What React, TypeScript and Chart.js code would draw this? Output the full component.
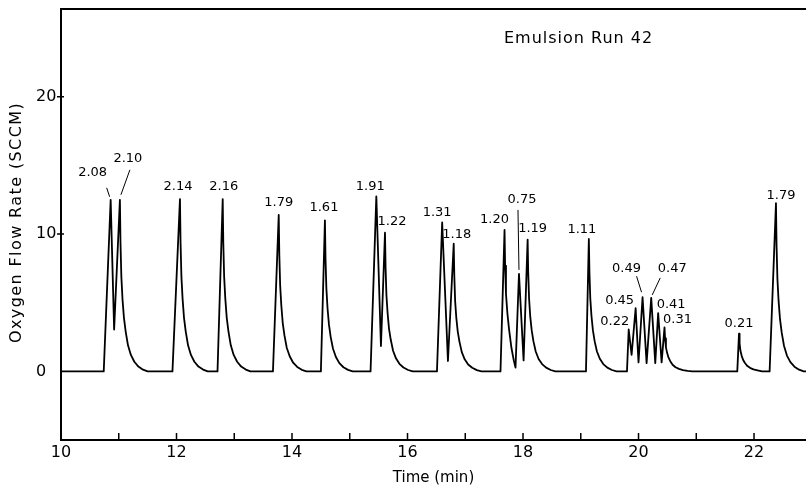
import React, { useEffect, useRef } from 'react';
import { Chart, registerables } from 'chart.js';

Chart.register(...registerables);

// Trace of the oxygen flow rate (SCCM) against time (min)
const TIME = [
  10.0,
  10.74, 10.86, 10.92, 11.02, 11.03, 11.045, 11.065, 11.09, 11.12, 11.16, 11.21, 11.27, 11.34, 11.42, 11.5,
  11.93, 12.06, 12.07, 12.085, 12.105, 12.13, 12.16, 12.2, 12.25, 12.31, 12.38, 12.46, 12.54,
  12.71, 12.8, 12.81, 12.825, 12.845, 12.87, 12.9, 12.94, 12.99, 13.05, 13.12, 13.2, 13.28,
  13.67, 13.77, 13.78, 13.795, 13.815, 13.84, 13.87, 13.91, 13.96, 14.02, 14.09, 14.17, 14.25,
  14.5, 14.57, 14.58, 14.595, 14.615, 14.64, 14.67, 14.71, 14.76, 14.82, 14.89, 14.97, 15.05,
  15.36, 15.46, 15.54, 15.61, 15.62, 15.635, 15.655, 15.68, 15.71, 15.75, 15.8, 15.86, 15.93, 16.01, 16.09,
  16.51, 16.6, 16.7, 16.8, 16.81, 16.825, 16.845, 16.87, 16.9, 16.94, 16.99, 17.05, 17.12, 17.2, 17.28,
  17.61, 17.68, 17.69, 17.705, 17.73, 17.76, 17.8, 17.84, 17.87, 17.93, 18.01,
  18.08, 18.09, 18.105, 18.125, 18.15, 18.18, 18.22, 18.27, 18.33, 18.4, 18.48, 18.56,
  19.09, 19.14, 19.15, 19.165, 19.185, 19.21, 19.24, 19.28, 19.33, 19.39, 19.46, 19.54, 19.62,
  19.8, 19.83, 19.88, 19.95, 20.0, 20.07, 20.14, 20.22, 20.29, 20.34, 20.4,
  20.45, 20.46, 20.475, 20.495, 20.52, 20.55, 20.59, 20.64, 20.7, 20.77, 20.85, 20.93,
  21.71, 21.74, 21.75, 21.765, 21.785, 21.81, 21.84, 21.88, 21.93, 21.99, 22.06, 22.14,
  22.27, 22.38, 22.39, 22.405, 22.425, 22.45, 22.48, 22.52, 22.57, 22.63, 22.7, 22.78, 22.86, 22.9,
];
const FLOW = [
  0,
  0, 12.5, 3.05, 12.5, 9.4, 6.9, 5.25, 3.9, 2.9, 1.9, 1.2, 0.7, 0.35, 0.12, 0,
  0, 12.55, 9.4, 6.9, 5.3, 3.9, 2.9, 1.9, 1.2, 0.7, 0.35, 0.13, 0,
  0, 12.55, 9.4, 6.9, 5.3, 3.9, 2.9, 1.9, 1.2, 0.7, 0.35, 0.13, 0,
  0, 11.4, 8.55, 6.25, 4.8, 3.5, 2.6, 1.7, 1.1, 0.63, 0.32, 0.11, 0,
  0, 11.0, 8.25, 6.05, 4.6, 3.4, 2.5, 1.65, 1.05, 0.6, 0.3, 0.11, 0,
  0, 12.75, 1.85, 10.1, 7.6, 5.55, 4.25, 3.1, 2.3, 1.5, 0.95, 0.55, 0.28, 0.1, 0,
  0, 10.85, 0.75, 9.3, 7.0, 5.1, 3.9, 2.9, 2.15, 1.4, 0.88, 0.5, 0.26, 0.09, 0,
  0, 10.3, 7.7, 5.65, 4.2, 3.0, 1.7, 0.8, 0.27, 7.1, 0.8,
  9.6, 7.2, 5.3, 4.0, 3.0, 2.2, 1.45, 0.9, 0.53, 0.27, 0.1, 0,
  0, 9.65, 7.25, 5.3, 4.05, 3.0, 2.2, 1.45, 0.92, 0.53, 0.27, 0.1, 0,
  0, 3.05, 1.2, 4.6, 0.65, 5.4, 0.6, 5.35, 0.6, 4.25, 0.65,
  3.2, 2.4, 1.75, 1.35, 1.0, 0.74, 0.48, 0.3, 0.18, 0.09, 0.03, 0,
  0, 2.75, 2.05, 1.5, 1.15, 0.85, 0.63, 0.41, 0.26, 0.15, 0.08, 0,
  0, 12.25, 9.2, 6.75, 5.15, 3.8, 2.8, 1.85, 1.15, 0.67, 0.34, 0.12, 0, 0,
];

// Peak annotations (text, peak time, peak height)
const PEAK_TEXT = [
  '2.08', '2.10', '2.14', '2.16', '1.79', '1.61', '1.91', '1.22', '1.31', '1.18', '1.20',
  '0.75', '1.19', '1.11', '0.22', '0.45', '0.49', '0.47', '0.41', '0.31', '0.21', '1.79',
];
const PEAK_TIME = [
  10.86, 11.02, 12.06, 12.8, 13.77, 14.57, 15.46, 15.61, 16.6, 16.8, 17.68,
  17.93, 18.08, 19.14, 19.83, 19.95, 20.07, 20.22, 20.34, 20.45, 21.74, 22.38,
];
const PEAK_FLOW = [
  12.5, 12.5, 12.55, 12.55, 11.4, 11.0, 12.75, 10.1, 10.85, 9.3, 10.3,
  7.1, 9.6, 9.65, 3.05, 4.6, 5.4, 5.35, 4.25, 3.2, 2.75, 12.25,
];

const X_TICKS = [10, 11, 12, 13, 14, 15, 16, 17, 18, 19, 20, 21, 22];
const Y_TICKS = [0, 10, 20];
const RUN_TITLE = 'Emulsion Run 42';
const X_TITLE = 'Time (min)';
const Y_TITLE = 'Oxygen Flow Rate (SCCM)';

// Layout only: pixel offsets of each label from its peak apex
const LABEL_OFFSET: [number, number][] = [
  [-18, -27], [8, -41], [-2, -12], [1, -12], [0, -12], [-1, -13], [-6, -10], [7, -11],
  [-5, -10], [3, -9], [-10, -10], [3, -74], [5, -11], [-7, -9], [-14, -8], [-16, -8],
  [-16, -29], [21, -29], [13, -8], [13, -8], [0, -10], [5, -8],
];
// Layout only: leader lines (label index, x1, y1, x2, y2 relative to apex)
const LEADERS: [number, number, number, number, number][] = [
  [0, -4, -12, -1, -3],
  [1, 10, -30, 1, -5],
  [11, -1, -64, 0, -4],
  [16, -6, -21, -1, -5],
  [17, 9, -20, 1, -3],
];

const FONT = 'DejaVu Sans';

const decorPlugin = {
  id: 'decor',
  afterDatasetsDraw(chart: any) {
    const { ctx, chartArea } = chart;
    const xs = chart.scales.x;
    const ys = chart.scales.y;
    const { left, right, top, bottom } = chartArea;
    ctx.save();
    ctx.strokeStyle = '#000';
    ctx.fillStyle = '#000';
    ctx.lineWidth = 2;
    ctx.beginPath();
    ctx.moveTo(right, top);
    ctx.lineTo(left, top);
    ctx.lineTo(left, bottom);
    ctx.lineTo(right, bottom);
    ctx.stroke();

    ctx.lineWidth = 1.5;
    ctx.beginPath();
    xs.ticks.forEach((t: any) => {
      const px = xs.getPixelForValue(t.value);
      ctx.moveTo(px, bottom);
      ctx.lineTo(px, bottom - 7);
    });
    ys.ticks.forEach((t: any) => {
      if (t.value === 0) return;
      const py = ys.getPixelForValue(t.value);
      ctx.moveTo(left - 4, py);
      ctx.lineTo(left + 3, py);
    });
    ctx.stroke();

    ctx.font = `13px "${FONT}"`;
    ctx.textAlign = 'center';
    ctx.textBaseline = 'middle';
    PEAK_TEXT.forEach((txt, i) => {
      const ax = xs.getPixelForValue(PEAK_TIME[i]);
      const ay = ys.getPixelForValue(PEAK_FLOW[i]);
      const [dx, dy] = LABEL_OFFSET[i];
      ctx.fillText(txt, ax + dx, ay + dy);
    });
    ctx.lineWidth = 1;
    ctx.beginPath();
    LEADERS.forEach(([i, x1, y1, x2, y2]) => {
      const ax = xs.getPixelForValue(PEAK_TIME[i]);
      const ay = ys.getPixelForValue(PEAK_FLOW[i]);
      ctx.moveTo(ax + x1, ay + y1);
      ctx.lineTo(ax + x2, ay + y2);
    });
    ctx.stroke();

    ctx.font = `16px "${FONT}"`;
    ctx.textAlign = 'left';
    (ctx as any).letterSpacing = '1px';
    ctx.fillText(RUN_TITLE, left + 443, top + 30);

    // y-axis title, rotated
    ctx.save();
    ctx.translate(left - 44, (top + bottom) / 2 - 2);
    ctx.rotate(-Math.PI / 2);
    ctx.textAlign = 'center';
    (ctx as any).letterSpacing = '1.4px';
    ctx.fillText(Y_TITLE, 0, 0);
    ctx.restore();
    ctx.restore();
  },
};

export default function App() {
  const ref = useRef<HTMLCanvasElement | null>(null);
  useEffect(() => {
    if (!ref.current) return;
    const points = TIME.map((t, i) => ({ x: t, y: FLOW[i] }));
    const chart = new Chart(ref.current, {
      type: 'scatter',
      data: {
        datasets: [
          {
            data: points,
            showLine: true,
            borderColor: '#000',
            borderWidth: 1.8,
            pointRadius: 0,
            tension: 0,
            borderJoinStyle: 'round',
            fill: false,
          } as any,
        ],
      },
      options: {
        responsive: false,
        animation: false,
        events: [],
        layout: { padding: { top: 9, right: 0, left: 36, bottom: 0 } },
        plugins: { legend: { display: false }, tooltip: { enabled: false } },
        scales: {
          x: {
            type: 'linear',
            min: 10,
            max: 22.9,
            afterBuildTicks: (s: any) => {
              s.ticks = X_TICKS.map((v) => ({ value: v }));
            },
            afterFit: (s: any) => {
              s.height = 47;
              s.paddingLeft = 0;
              s.paddingRight = 0;
            },
            grid: { display: false, drawTicks: false },
            border: { display: false },
            ticks: {
              color: '#000',
              font: { family: FONT, size: 16 },
              padding: 3,
              maxRotation: 0,
              autoSkip: false,
              callback: (v: any) => (Number(v) % 2 === 0 ? String(v) : ''),
            },
            title: {
              display: true,
              text: X_TITLE,
              color: '#000',
              font: { family: FONT, size: 15 },
              padding: { top: 0, bottom: 0 },
            },
          },
          y: {
            type: 'linear',
            min: -5,
            max: 26.4,
            afterBuildTicks: (s: any) => {
              s.ticks = Y_TICKS.map((v) => ({ value: v }));
            },
            afterFit: (s: any) => {
              s.width = 25;
              s.paddingTop = 0;
              s.paddingBottom = 0;
            },
            grid: { display: false, drawTicks: false },
            border: { display: false },
            ticks: {
              color: '#000',
              font: { family: FONT, size: 16 },
              crossAlign: 'far',
              padding: 4,
            },
          },
        },
      },
      plugins: [decorPlugin],
    });
    return () => chart.destroy();
  }, []);

  return (
    <div style={{ position: 'absolute', left: 0, top: 0, width: 806, height: 487, background: '#fff' }}>
      <canvas ref={ref} width={806} height={487} style={{ display: 'block' }} />
    </div>
  );
}
